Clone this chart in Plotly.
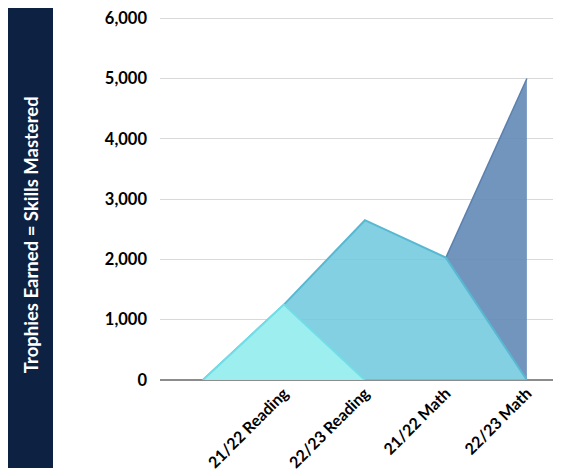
import plotly.graph_objects as go

# ---- data ----
categories = ["", "21/22 Reading", "22/23 Reading", "21/22 Math", "22/23 Math"]
series_1 = [0, 1250, 0, None, None]
series_2 = [0, 1250, 2650, 2030, 0]
series_3 = [None, None, None, 2030, 5000]
y_ticks = [0, 1000, 2000, 3000, 4000, 5000, 6000]
y_title = "Trophies Earned = Skills Mastered"

xpos = list(range(len(categories)))
FONT = "Lato"

def pts(vals):
    xs = [x for x, v in zip(xpos, vals) if v is not None]
    ys = [v for v in vals if v is not None]
    return xs, ys

fig = go.Figure()

# baseline for series 3 = series 2 where series 3 exists
x3, y3 = pts(series_3)
base3 = [series_2[i] for i in x3]
fig.add_trace(go.Scatter(x=x3, y=base3, mode="lines", line=dict(width=0),
                         hoverinfo="skip", showlegend=False))
fig.add_trace(go.Scatter(x=x3, y=y3, mode="lines", fill="tonexty",
                         fillcolor="rgba(99,138,183,0.9)",
                         line=dict(color="#5B80AE", width=1.5), showlegend=False))

x2, y2 = pts(series_2)
fig.add_trace(go.Scatter(x=x2, y=y2, mode="lines", fill="tozeroy",
                         fillcolor="rgba(108,200,220,0.85)",
                         line=dict(color="#58B8D2", width=2), showlegend=False))

x1, y1 = pts(series_1)
fig.add_trace(go.Scatter(x=x1, y=y1, mode="lines", fill="tozeroy",
                         fillcolor="rgba(158,238,238,0.97)",
                         line=dict(color="#72DDE6", width=2), showlegend=False))

W, H = 561, 476
L, R, T, B = 152, 0, 1, 104
pw, ph = W - L - R, H - T - B

def px_x(p):
    return (p - L) / pw

def px_y(p):
    return (H - B - p) / ph

fig.add_shape(type="rect", xref="paper", yref="paper",
              x0=px_x(0), x1=px_x(45), y0=px_y(462), y1=px_y(-10),
              fillcolor="#0D2143", line=dict(width=0), layer="below")
fig.add_annotation(text="<b>" + y_title + "</b>", xref="paper", yref="paper",
                   x=px_x(23), y=px_y(224), xanchor="center", yanchor="middle",
                   textangle=-90, showarrow=False,
                   font=dict(family=FONT, size=18.5, color="white"))

fig.update_layout(
    width=W, height=H,
    margin=dict(l=L, r=R, t=T, b=B),
    paper_bgcolor="white", plot_bgcolor="white",
    font=dict(family=FONT, color="black"),
    xaxis=dict(range=[-0.53, 4.52], tickmode="array",
               tickvals=xpos[1:], ticktext=["<b>" + c + "</b>" for c in categories[1:]],
               tickangle=-45, tickfont=dict(size=16, family=FONT),
               showgrid=False, zeroline=False, showline=False, ticks=""),
    yaxis=dict(range=[0, 6020], tickvals=y_ticks,
               ticktext=["<b>" + f"{v:,}" + "</b>" for v in y_ticks],
               tickfont=dict(size=16.5, family=FONT),
               ticklabeloverflow="allow",
               showgrid=True, gridcolor="#D9D9D9", gridwidth=1,
               zeroline=True, zerolinecolor="#8C8C8C", zerolinewidth=1.5,
               ticklabelstandoff=12, showline=False),
)

fig.write_html("out.html")
